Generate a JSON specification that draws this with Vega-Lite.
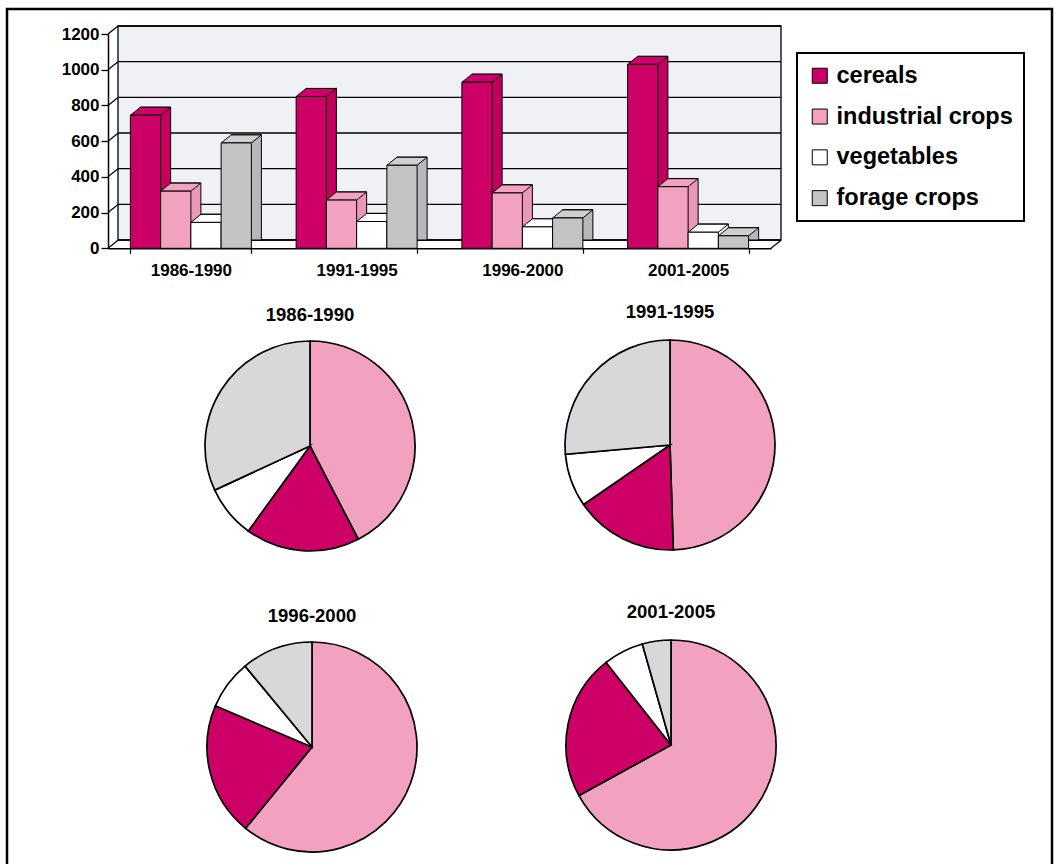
{
  "$schema": "https://vega.github.io/schema/vega-lite/v6.json",
  "autosize": {"type": "none"},
  "width": 1045,
  "height": 870,
  "padding": {"left": 7, "top": 9, "right": 5, "bottom": 0},
  "background": "white",
  "config": {
    "font": "Liberation Sans",
    "view": {"stroke": "black", "strokeWidth": 2.5}
  },
  "datasets": {
    "bars": [
      {"period": "1986-1990", "crop": "cereals", "value": 745},
      {"period": "1986-1990", "crop": "industrial crops", "value": 320},
      {"period": "1986-1990", "crop": "vegetables", "value": 145},
      {"period": "1986-1990", "crop": "forage crops", "value": 590},
      {"period": "1991-1995", "crop": "cereals", "value": 850},
      {"period": "1991-1995", "crop": "industrial crops", "value": 270},
      {"period": "1991-1995", "crop": "vegetables", "value": 150},
      {"period": "1991-1995", "crop": "forage crops", "value": 465},
      {"period": "1996-2000", "crop": "cereals", "value": 930},
      {"period": "1996-2000", "crop": "industrial crops", "value": 310},
      {"period": "1996-2000", "crop": "vegetables", "value": 120},
      {"period": "1996-2000", "crop": "forage crops", "value": 170},
      {"period": "2001-2005", "crop": "cereals", "value": 1030},
      {"period": "2001-2005", "crop": "industrial crops", "value": 345},
      {"period": "2001-2005", "crop": "vegetables", "value": 90},
      {"period": "2001-2005", "crop": "forage crops", "value": 70}
    ],
    "pies": [
      {"period": "1986-1990", "crop": "industrial crops", "share": 42.4},
      {"period": "1986-1990", "crop": "cereals", "share": 17.6},
      {"period": "1986-1990", "crop": "vegetables", "share": 8.1},
      {"period": "1986-1990", "crop": "forage crops", "share": 31.9},
      {"period": "1991-1995", "crop": "industrial crops", "share": 49.5},
      {"period": "1991-1995", "crop": "cereals", "share": 15.9},
      {"period": "1991-1995", "crop": "vegetables", "share": 8.2},
      {"period": "1991-1995", "crop": "forage crops", "share": 26.4},
      {"period": "1996-2000", "crop": "industrial crops", "share": 60.9},
      {"period": "1996-2000", "crop": "cereals", "share": 20.5},
      {"period": "1996-2000", "crop": "vegetables", "share": 7.6},
      {"period": "1996-2000", "crop": "forage crops", "share": 11.0},
      {"period": "2001-2005", "crop": "industrial crops", "share": 67.0},
      {"period": "2001-2005", "crop": "cereals", "share": 22.4},
      {"period": "2001-2005", "crop": "vegetables", "share": 6.2},
      {"period": "2001-2005", "crop": "forage crops", "share": 4.4}
    ],
    "gridTicks": [
      {"v": 0}, {"v": 200}, {"v": 400}, {"v": 600}, {"v": 800}, {"v": 1000}, {"v": 1200}
    ]
  },
  "resolve": {
    "scale": {"x": "independent", "y": "independent", "xOffset": "independent", "color": "independent", "theta": "independent"},
    "axis": {"x": "independent", "y": "independent"},
    "legend": {"color": "independent"}
  },
  "layer": [
    {
      "layer": [
        {
          "data": {"values": [{}]},
          "mark": {"type": "rect", "fill": "#f0f1f5", "stroke": "black", "strokeWidth": 1.3},
          "encoding": {
            "x": {"datum": 0, "type": "quantitative", "scale": {"domain": [0, 1], "range": [111, 774]}, "axis": null},
            "x2": {"datum": 1},
            "y": {"datum": 0, "type": "quantitative", "scale": {"domain": [0, 1200], "range": [231, 17]}, "axis": null},
            "y2": {"datum": 1200}
          }
        },
        {
          "data": {"name": "gridTicks"},
          "mark": {"type": "rule", "stroke": "black", "strokeWidth": 1.3},
          "encoding": {
            "x": {"datum": 0, "type": "quantitative", "scale": {"domain": [0, 1], "range": [111, 774]}, "axis": null},
            "x2": {"datum": 1},
            "y": {"field": "v", "type": "quantitative", "scale": {"domain": [0, 1200], "range": [231, 17]}, "axis": null}
          }
        }
      ]
    },
    {
      "layer": [
        {
          "data": {"name": "gridTicks"},
          "mark": {"type": "rule", "stroke": "black", "strokeWidth": 1.3, "x2Offset": 10, "y2Offset": -8},
          "encoding": {
            "x": {"datum": 0, "type": "quantitative", "scale": {"domain": [0, 1], "range": [101, 764]}, "axis": null},
            "x2": {"datum": 0},
            "y": {
              "field": "v", "type": "quantitative",
              "scale": {"domain": [0, 1200], "range": [239.3, 25]},
              "axis": {
                "orient": "left", "offset": -101, "title": null, "grid": false, "format": "d",
                "values": [0, 200, 400, 600, 800, 1000, 1200],
                "domainColor": "black", "domainWidth": 1.5,
                "tickColor": "black", "tickWidth": 1.3, "tickSize": 7,
                "labelFont": "Liberation Sans", "labelFontWeight": "bold", "labelFontSize": 17,
                "labelColor": "black", "labelPadding": 2
              }
            },
            "y2": {"field": "v"}
          }
        },
        {
          "data": {"values": [{}]},
          "mark": {"type": "rule", "stroke": "black", "strokeWidth": 1.3, "x2Offset": 10, "y2Offset": -8},
          "encoding": {
            "x": {"datum": 1, "type": "quantitative", "scale": {"domain": [0, 1], "range": [101, 764]}, "axis": null},
            "x2": {"datum": 1},
            "y": {"datum": 0, "type": "quantitative", "scale": {"domain": [0, 1200], "range": [239.3, 25]}},
            "y2": {"datum": 0}
          }
        }
      ]
    },
    {
      "data": {"name": "bars"},
      "mark": {"type": "bar", "stroke": "black", "strokeWidth": 1},
      "encoding": {
        "x": {"field": "period", "type": "nominal", "scale": {"type": "band", "range": [111, 774], "paddingInner": 0.27, "paddingOuter": 0.135}, "axis": null},
        "xOffset": {"field": "crop", "type": "nominal", "scale": {"type": "band", "domain": ["cereals", "industrial crops", "vegetables", "forage crops"], "paddingInner": 0, "paddingOuter": 0}},
        "y": {"field": "value", "type": "quantitative", "stack": null, "scale": {"domain": [0, 1200], "range": [231, 17]}, "axis": null},
        "color": {
          "field": "crop", "type": "nominal",
          "scale": {"domain": ["cereals", "industrial crops", "vegetables", "forage crops"], "range": ["#c4005e", "#eb98b8", "#f4f4f4", "#b8b8ba"]},
          "legend": null
        }
      }
    },
    {
      "data": {"name": "bars"},
      "mark": {"type": "point", "shape": "M-15.1,0 L15.1,0 L25.1,-8 L-5.1,-8 Z", "size": 4, "filled": true, "opacity": 1, "stroke": "black", "strokeWidth": 1},
      "encoding": {
        "x": {"field": "period", "type": "nominal", "scale": {"type": "band", "range": [101, 764], "paddingInner": 0.27, "paddingOuter": 0.135}, "axis": null},
        "xOffset": {"field": "crop", "type": "nominal", "scale": {"type": "band", "domain": ["cereals", "industrial crops", "vegetables", "forage crops"], "paddingInner": 0, "paddingOuter": 0}},
        "y": {"field": "value", "type": "quantitative", "stack": null, "scale": {"domain": [0, 1200], "range": [239.3, 25]}, "axis": null},
        "color": {
          "field": "crop", "type": "nominal",
          "scale": {"domain": ["cereals", "industrial crops", "vegetables", "forage crops"], "range": ["#d0006a", "#f2a2c0", "#ffffff", "#cfcfd1"]},
          "legend": null
        }
      }
    },
    {
      "data": {"name": "bars"},
      "mark": {"type": "bar", "stroke": "black", "strokeWidth": 1},
      "encoding": {
        "x": {
          "field": "period", "type": "nominal",
          "scale": {"type": "band", "range": [101, 764], "paddingInner": 0.27, "paddingOuter": 0.135},
          "axis": {
            "orient": "bottom", "offset": -630.7, "title": null, "labelAngle": 0,
            "domainColor": "black", "domainWidth": 1.5,
            "tickBand": "extent", "tickColor": "black", "tickWidth": 1.2, "tickSize": 5,
            "labelFont": "Liberation Sans", "labelFontWeight": "bold", "labelFontSize": 17,
            "labelColor": "black", "labelPadding": 9
          }
        },
        "xOffset": {"field": "crop", "type": "nominal", "scale": {"type": "band", "domain": ["cereals", "industrial crops", "vegetables", "forage crops"], "paddingInner": 0, "paddingOuter": 0}},
        "y": {"field": "value", "type": "quantitative", "stack": null, "scale": {"domain": [0, 1200], "range": [239.3, 25]}, "axis": null},
        "color": {
          "field": "crop", "type": "nominal",
          "scale": {"domain": ["cereals", "industrial crops", "vegetables", "forage crops"], "range": ["#cc0066", "#f2a2c0", "#ffffff", "#c4c4c6"]},
          "legend": {
            "title": null, "orient": "none", "legendX": 790, "legendY": 44, "direction": "vertical",
            "strokeColor": "black", "fillColor": "white", "padding": 11,
            "symbolType": "square", "symbolSize": 225, "symbolStrokeColor": "black", "symbolStrokeWidth": 1,
            "labelFont": "Liberation Sans", "labelFontWeight": "bold", "labelFontSize": 23.5,
            "labelColor": "black", "labelOffset": 5, "labelLimit": 400, "rowPadding": 15.8,
            "encode": {"legend": {"update": {"strokeWidth": {"value": 2}}}}
          }
        }
      }
    },
    {
      "data": {"name": "pies"},
      "transform": [{"filter": {"field": "period", "oneOf": ["1986-1990", "1996-2000"]}}],
      "layer": [
        {
          "transform": [{"stack": "share", "groupby": ["period"], "as": ["t0", "t1"], "offset": "normalize"}],
          "mark": {"type": "arc", "outerRadius": 105, "stroke": "black", "strokeWidth": 1.7},
          "encoding": {
            "x": {"field": "period", "type": "nominal", "scale": {"type": "point", "domain": ["1986-1990", "1996-2000"], "range": [303, 305], "padding": 0}, "axis": null},
            "y": {"field": "period", "type": "nominal", "scale": {"type": "point", "domain": ["1986-1990", "1996-2000"], "range": [437, 738], "padding": 0}, "axis": null},
            "theta": {"field": "t0", "type": "quantitative", "scale": {"domain": [0, 1]}},
            "theta2": {"field": "t1"},
            "color": {
              "field": "crop", "type": "nominal",
              "scale": {"domain": ["cereals", "industrial crops", "vegetables", "forage crops"], "range": ["#cc0066", "#f2a2c0", "#ffffff", "#d8d8da"]},
              "legend": null
            }
          }
        },
        {
          "transform": [{"aggregate": [{"op": "count", "as": "n"}], "groupby": ["period"]}],
          "mark": {"type": "text", "dy": -131, "baseline": "middle", "align": "center", "font": "Liberation Sans", "fontWeight": "bold", "fontSize": 18.5, "color": "black"},
          "encoding": {
            "x": {"field": "period", "type": "nominal", "scale": {"type": "point", "domain": ["1986-1990", "1996-2000"], "range": [303, 305], "padding": 0}, "axis": null},
            "y": {"field": "period", "type": "nominal", "scale": {"type": "point", "domain": ["1986-1990", "1996-2000"], "range": [437, 738], "padding": 0}, "axis": null},
            "text": {"field": "period"}
          }
        }
      ]
    },
    {
      "data": {"name": "pies"},
      "transform": [{"filter": {"field": "period", "oneOf": ["1991-1995", "2001-2005"]}}],
      "layer": [
        {
          "transform": [{"stack": "share", "groupby": ["period"], "as": ["t0", "t1"], "offset": "normalize"}],
          "mark": {"type": "arc", "outerRadius": 105, "stroke": "black", "strokeWidth": 1.7},
          "encoding": {
            "x": {"field": "period", "type": "nominal", "scale": {"type": "point", "domain": ["1991-1995", "2001-2005"], "range": [663, 664], "padding": 0}, "axis": null},
            "y": {"field": "period", "type": "nominal", "scale": {"type": "point", "domain": ["1991-1995", "2001-2005"], "range": [436, 736], "padding": 0}, "axis": null},
            "theta": {"field": "t0", "type": "quantitative", "scale": {"domain": [0, 1]}},
            "theta2": {"field": "t1"},
            "color": {
              "field": "crop", "type": "nominal",
              "scale": {"domain": ["cereals", "industrial crops", "vegetables", "forage crops"], "range": ["#cc0066", "#f2a2c0", "#ffffff", "#d8d8da"]},
              "legend": null
            }
          }
        },
        {
          "transform": [{"aggregate": [{"op": "count", "as": "n"}], "groupby": ["period"]}],
          "mark": {"type": "text", "dy": -133, "baseline": "middle", "align": "center", "font": "Liberation Sans", "fontWeight": "bold", "fontSize": 18.5, "color": "black"},
          "encoding": {
            "x": {"field": "period", "type": "nominal", "scale": {"type": "point", "domain": ["1991-1995", "2001-2005"], "range": [663, 664], "padding": 0}, "axis": null},
            "y": {"field": "period", "type": "nominal", "scale": {"type": "point", "domain": ["1991-1995", "2001-2005"], "range": [436, 736], "padding": 0}, "axis": null},
            "text": {"field": "period"}
          }
        }
      ]
    }
  ]
}
